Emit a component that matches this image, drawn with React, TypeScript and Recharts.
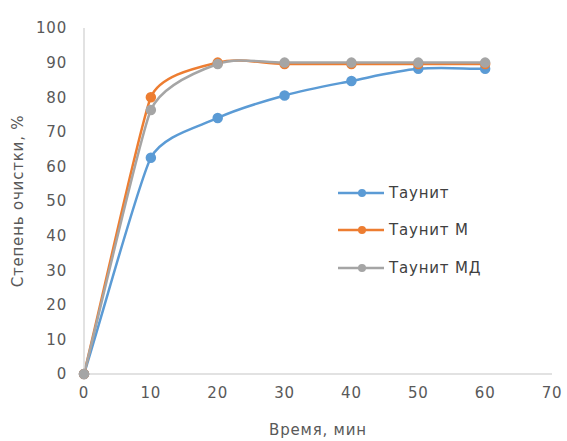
import React from 'react';
import { LineChart, Line, XAxis, YAxis } from 'recharts';

const times = [0, 10, 20, 30, 40, 50, 60];
const taunit = [0, 62.5, 74, 80.5, 84.7, 88.2, 88.2];
const taunitM = [0, 80, 90, 89.6, 89.6, 89.6, 89.6];
const taunitMD = [0, 76.3, 89.6, 90, 90, 90, 90];
const xTicks = [0, 10, 20, 30, 40, 50, 60, 70];
const yTicks = [0, 10, 20, 30, 40, 50, 60, 70, 80, 90, 100];

const seriesNames = ['Таунит', 'Таунит М', 'Таунит МД'];
const colors = ['#5b9bd5', '#ed7d31', '#a5a5a5'];

const data = times.map((t, i) => ({ t, a: taunit[i], b: taunitM[i], c: taunitMD[i] }));

const FONT = '"DejaVu Sans", sans-serif';
const FS = 15;
const LS = 0.8;

// Excel-like smoothed line: tangent along (next - prev), arm length limited by the shorter neighbour segment
function excelCurve(context: any) {
  let pts: [number, number][] = [];
  const dist = (a: [number, number], b: [number, number]) => Math.hypot(b[0] - a[0], b[1] - a[1]);
  const K = 0.32;
  return {
    areaStart() {},
    areaEnd() {},
    lineStart() { pts = []; },
    point(x: number, y: number) { pts.push([+x, +y]); },
    lineEnd() {
      const n = pts.length;
      if (n === 0) return;
      context.moveTo(pts[0][0], pts[0][1]);
      if (n === 1) return;
      // unit tangents and arm lengths at each point
      const tan: [number, number][] = [];
      const arm: number[] = [];
      for (let i = 0; i < n; i++) {
        const pPrev = pts[Math.max(0, i - 1)];
        const pNext = pts[Math.min(n - 1, i + 1)];
        const dx = pNext[0] - pPrev[0];
        const dy = pNext[1] - pPrev[1];
        const len = Math.hypot(dx, dy) || 1;
        tan.push([dx / len, dy / len]);
        const dA = i > 0 ? dist(pts[i - 1], pts[i]) : Infinity;
        const dB = i < n - 1 ? dist(pts[i], pts[i + 1]) : Infinity;
        arm.push(K * Math.min(dA, dB));
      }
      for (let i = 0; i < n - 1; i++) {
        const p1 = pts[i];
        const p2 = pts[i + 1];
        const c1x = p1[0] + tan[i][0] * arm[i];
        const c1y = p1[1] + tan[i][1] * arm[i];
        const c2x = p2[0] - tan[i + 1][0] * arm[i + 1];
        const c2y = p2[1] - tan[i + 1][1] * arm[i + 1];
        context.bezierCurveTo(c1x, c1y, c2x, c2y, p2[0], p2[1]);
      }
    },
  };
}

const LegendBox = () => (
  <div style={{ position: 'absolute', left: 337, top: 174, fontFamily: FONT, fontSize: FS, letterSpacing: LS, color: '#404040' }}>
    {seriesNames.map((n, i) => (
      <div key={n} style={{ display: 'flex', alignItems: 'center', height: 37.5 }}>
        <svg width={48} height={12}>
          <line x1={1} y1={6} x2={47} y2={6} stroke={colors[i]} strokeWidth={2.5} />
          <circle cx={25} cy={6} r={4} fill={colors[i]} />
        </svg>
        <span style={{ marginLeft: 4 }}>{n}</span>
      </div>
    ))}
  </div>
);

const tickStyle = { fill: '#595959', fontSize: FS, fontFamily: FONT, letterSpacing: LS };

export default function App() {
  return (
    <div style={{ position: 'absolute', left: 0, top: 0, width: 567, height: 441, background: '#fff' }}>
      <LineChart width={567} height={441} data={data} margin={{ top: 28, right: 15, bottom: 18, left: 14 }}>
        <XAxis
          dataKey="t"
          type="number"
          domain={[0, 70]}
          ticks={xTicks}
          axisLine={{ stroke: '#d9d9d9', strokeWidth: 1.5 }}
          tickLine={false}
          tickSize={0}
          tickMargin={13}
          height={49}
          tick={tickStyle}
          label={{ value: 'Время, мин', position: 'bottom', offset: 1, style: { letterSpacing: LS }, fill: '#595959', fontSize: FS, fontFamily: FONT }}
        />
        <YAxis
          type="number"
          domain={[0, 100]}
          ticks={yTicks}
          axisLine={{ stroke: '#d9d9d9', strokeWidth: 1.5 }}
          tickLine={false}
          tickSize={0}
          tickMargin={17}
          width={70}
          tick={tickStyle}
          label={{ value: 'Степень очистки, %', angle: -90, position: 'insideLeft', offset: 4, style: { textAnchor: 'middle', letterSpacing: LS }, fill: '#595959', fontSize: FS, fontFamily: FONT }}
        />
        <Line type={excelCurve as any} dataKey="a" name={seriesNames[0]} stroke={colors[0]} strokeWidth={2.5} dot={{ r: 4, fill: colors[0], stroke: colors[0] }} isAnimationActive={false} />
        <Line type={excelCurve as any} dataKey="b" name={seriesNames[1]} stroke={colors[1]} strokeWidth={2.5} dot={{ r: 4, fill: colors[1], stroke: colors[1] }} isAnimationActive={false} />
        <Line type={excelCurve as any} dataKey="c" name={seriesNames[2]} stroke={colors[2]} strokeWidth={2.5} dot={{ r: 4, fill: colors[2], stroke: colors[2] }} isAnimationActive={false} />
      </LineChart>
      <LegendBox />
    </div>
  );
}
